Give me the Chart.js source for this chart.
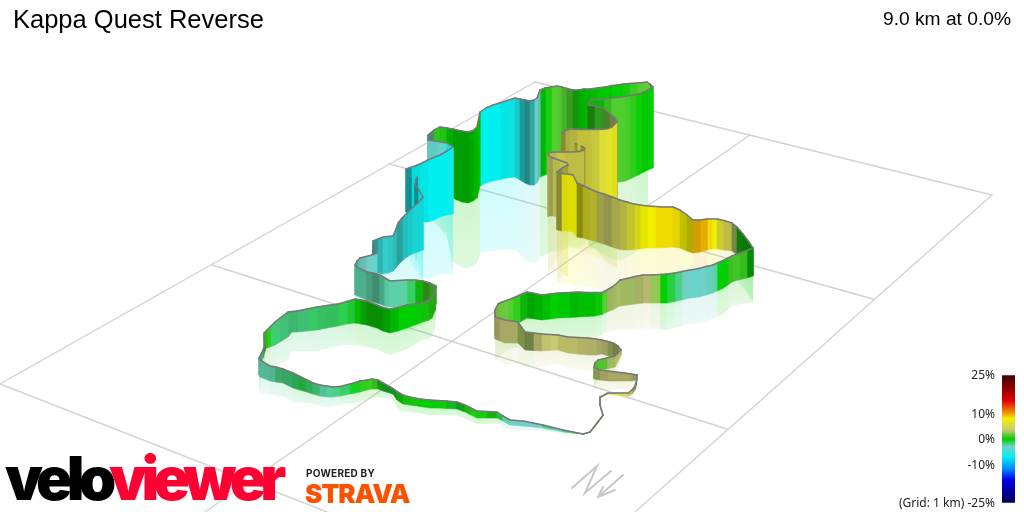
<!DOCTYPE html>
<html lang="en">
<head>
  <meta charset="UTF-8">
  <title>Kappa Quest Reverse</title>
  <script src="https://cdn.jsdelivr.net/npm/chart.js"></script>
  <style>
    html, body { margin: 0; padding: 0; background: #fff; overflow: hidden; }
    #wrap { position: relative; width: 1024px; height: 512px; }
    canvas { display: block; }
    .txt { position: absolute; white-space: nowrap; color: #000; }
    #title { left: 13px; top: 5px; font: 25.5px "Liberation Sans", sans-serif; }
    #dist { right: 13px; top: 8px; font: 19.2px "Liberation Sans", sans-serif; }
    .tick { right: 29px; font: 12px "Noto Sans", sans-serif; line-height: 14px; color: #222; }
    #velo { left: 5px; top: 440px; font: 900 60px/76px Inter, sans-serif; letter-spacing: -5.8px; }
    #velo .a { color: #000; }
    #velo .b { color: #ff0033; }
    #powered { left: 306px; top: 467px; font: 700 10px/13px Inter, sans-serif; letter-spacing: .25px; color: #222; }
    #strava { left: 305px; top: 479px; font: 900 26px/29px Inter, sans-serif; letter-spacing: -0.9px; color: #fc5200; }
  </style>
</head>
<body>
<div id="wrap">
  <canvas id="myChart" width="1024" height="512"></canvas>
  <div class="txt" id="title">Kappa Quest Reverse</div>
  <div class="txt" id="dist">9.0 km at 0.0%</div>
  <div id="ticks"></div>
  <div class="txt" id="velo"><span class="a">velo</span><span class="b">viewer</span></div>
  <div class="txt" id="powered">POWERED BY</div>
  <div class="txt" id="strava">STRAVA</div>
</div>

<script>
  // Route, one row per stretch. top = wall top, base = ground
  const routeX = [
    583,573,563,553,543,533,523,510,503,497,487,477,471,465,457,447,437,430,420,410,403,397,393,383,378,372,367,360,350,340,333,327,320,313,307,300,293,283,276,270,260,
    259,263,265,264,267,270,275,280,288,292,297,307,317,327,338,347,355,361,367,377,383,390,398,407,415,423,428,432,435,436,
    430,423,415,407,398,390,385,380,373,367,360,355,
    357,360,366,372,377,375,373,373,378,383,388,393,396,398,402,407,412,418,423,
    419,415,416,417,410,407,406,
    412,420,428,434,440,447,453,
    447,438,428,428,
    434,440,447,453,457,462,468,473,477,
    480,486,493,500,507,515,520,525,530,534,537,
    540,545,551,557,562,567,573,578,584,590,597,605,612,618,623,630,637,643,647,650,653,
    648,642,636,630,625,620,612,605,597,590,588,595,603,610,615,617,
    612,607,600,592,585,578,570,566,562,564,567,575,581,585,
    584,579,573,565,556,550,548,549,553,560,567,568,562,557,
    562,567,573,577,583,590,597,604,612,620,627,634,640,647,655,665,673,680,687,693,700,707,712,717,724,732,737,743,749,753,
    747,740,732,728,722,717,713,706,699,690,682,675,667,660,651,643,635,627,620,616,612,607,602,595,587,578,570,558,550,542,535,527,520,513,508,502,498,495,495,
    500,505,512,518,525,534,542,550,558,568,578,588,596,602,608,613,618,621,
    615,607,598,595,594,600,608,616,625,631,637,636.5,635,632,628,618,608,600,600,603,597,590
  ];
  const routeTop = [
    434,432,430,427.5,425,423,421,420,416,412,411.5,411,408,405,402,401,400.5,400,399,397,395,391.5,388.5,383,380,379,380,381,384,386.5,387,386,385,383,380,376.5,373,369,367,366,360,
    358,350,345,333,330,327,322,318,312,311.5,311,309,307,305.5,304,301.5,299,300,301,305,307.5,309,307.5,305,304,303,300.5,298,292,286,
    283,281,280,280,280.5,281,278,275,273,272,269,265,
    261,258,256.5,255,253,249,245,241,239,237,236.5,236,229,223,218,213,208,203,197,
    190,185,180,177,176,172,169,
    167,164,160,157.5,155,151,147,
    143,141.5,140,135,
    130,127,128,129,130,131,132,130.5,127,
    112,108,105,103,100.5,98,99,100,101,100,98,
    90,88,87,86,87,88.5,90,90,89,89,88,87,85.5,85,84,83.5,83,82.5,82,84,87,
    90,93,94.5,95.5,96.5,97,98,99,99.5,100,105,106,108,114,118,122,
    127,129,129.5,129.5,129.5,129.5,129,130.5,133,137,140,143.5,146,148,
    150,151.5,152,152,152,152.5,154,156,158,160.5,163,165,168,172,
    173.5,174,175,183,185.5,189,192,194,197,200,202,204,205,206,206.5,207,207,210,215,220,220,219,219,219,220.5,223,227,234,242,248,
    250.5,253,256,258,261,263,265,266.5,268.5,270,271.5,273,274,274.5,275,275,276.5,278.5,280,284,287,290,292.5,292.5,292.5,292,292.5,293,294,295,293.5,292,295,298,300,302,304,310,317,
    318.5,320,321,322,332,333,334,334.5,335,337,337.5,338,339,340,341.5,343,346,350,
    356,358,360,363,367,370,371,372,373,374,375,381,386,390,393,393,393,397,405,415,423,432
  ];
  const routeBase = [
    434,433,432,430,428,427,426,425,421,418,418,418,415,412,409,408.5,408,408,406.5,405,404,400,394,391,389,389,390,392,394,396,397,397,396,394,392,390,388,383,382,381,377,
    375,358,351,349,348,347,345,342,337,332,332,331,330,328,326,324,323,324,325,328,331,333,331,328,325,322,320.5,318,311,304,
    300,303,305,307,307.5,307,306,304,302,300,297,295,
    291,284,280,279,277,275,273,272,273,274,273,271,268,265,261,257,254,252,250,
    228,224,222,220,214,212,212,
    218,222,222,220,217,215,214,
    190,185,180,178,
    178,180,185,198,200,202,203,201,198,
    186,183,181,179.5,178,177,180,183,185,185,183,
    177,175,173,172,172,172,172,172,170,165,162,160,160,160,160,160,160,160,160,162,168,
    170,173,176,179,181,182,182,180,178,177,178,180,186,192,196,198,
    199,199,197,195,194,192,190,188,186,186,187,190,192,194,
    195,196,198,202,208,214,217,216,216,218,222,223,224,230,
    231,231,232,237,238,240,242,244,247,249.5,250,249.5,249,248,248,247.5,247,248,251,253,252,250,249,249,250,251,255,262,270,276,
    278,279.5,282,285,289,291,293,295,297,298,300,301.5,303,303,303,303,304,305,306,308,310,312,314.5,316,316.5,317,317.5,318,319,320,319,318,322,324,326,329,332,336,339,
    341,343,343,343,350,350.5,351,350.5,350,353,354,355,355,354,356,358,356,355,
    367,369,370,375,379,380,381,381,381,381,380,385,390,394,396,395,394,398,406,416,424,432.5
  ];
  // gradient in percent for each stretch of wall
  const routeGrade = [
    0,-2,-3,-2,-3,-3,-3,-2.5,-1,.5,.3,.5,.6,-.5,-.5,.2,0,0,.3,.3,.3,-.8,-.8,.3,1,1,.8,-.5,-1.5,-2,-2.2,-2.5,-1.8,-1.5,-1.2,-1.5,-1.8,-2,-2.4,-2.6,-2.6,
    -2.6,1,.6,.8,.7,-1.6,-1.9,-1.9,-1.9,-1.9,-1.9,-1.6,-1.6,-1.5,-1.2,-.8,.2,.2,.2,.2,.1,0,0,0,.2,.4,.6,.8,1,1.2,
    1.4,.3,-1.5,-2.5,-2.5,-2.5,-2.5,-2.5,-2.5,-2.5,-2.5,-2.5,
    -3,-3,-3,-3.5,-5,-5,-5,-5,-5,-5,-5,-5,-5,-5,-5.5,-6,-6,-6.5,-7,
    -6,-6,-6,-6,-6,-6,-6,
    -7,-7,-7,-7,-7,-6.5,-6.5,
    -3.5,-3.5,-3,-3,
    .8,.5,0,0,0,0,0,0,0,
    -7,-7,-7,-7,-6.5,-6,-5.5,-5,-4.5,-3.5,-3,
    0,.4,1.5,1.6,1.4,1.3,.5,0,0,0,0,0,0,0,.3,1,1.5,1.7,1.8,.2,0,
    .1,.2,.8,1.2,1.4,1.4,1,.3,.3,.8,.8,1,2,3,3.5,7,
    6.5,6,5.5,5.5,5.5,5,5,5,5,5,5,5.5,5.5,5.5,
    5,5,5,5,4.5,4,4,4,4.5,5,5,5,5,5,
    7.5,8,8,7,6.5,6,4.5,4,4.5,5,6,7,8,8,8.5,8.5,8.5,8,8,9.5,9.5,8.5,8,6,5,3,.5,0,0,0,
    1,1.2,1.2,0,.1,-2.5,-2.8,-3,-3.2,-3,-2,-1,0,2.5,3.5,3.3,3,3,3,3,3.2,1.5,.2,0,0,0,0,0,0,0,0,.2,.8,1.5,1.8,2,2.5,3,3.5,
    3.5,3.5,3.5,3,3,3.5,3.7,3.7,3.7,3.7,3.7,3.5,3.5,3.5,3.2,3.2,3.5,3.5,
    3,1.5,1,1,3,3.5,3.5,3.5,3.5,3.5,3.5,3.5,3.5,4,5.5,5.5,4.5,1,1,0,0,0
  ];
  // how much light each stretch catches
  const routeLight = [
    1,1,1,1,1,1,1,1,.9,.8,1,1,.85,.7,.85,1,1,1,.95,.9,.75,.6,.6,.7,.9,1,1,1,1,1,1,.9,.85,.8,.75,.75,.75,.75,.85,.85,.8,
    .75,.6,.8,.9,1,1,.95,.9,.85,.85,.9,.95,.9,.9,1,.95,.85,.7,.6,.6,.7,.85,1,1,.95,.9,.8,.75,.7,.7,
    .55,.85,1,1,1,.95,.75,.6,.7,.8,.8,.75,
    .85,.9,1,1,.6,.5,.5,.6,.75,.9,.85,.8,.65,.65,.8,.85,.9,.9,.9,
    .5,.5,.45,.5,.55,.5,.55,
    .9,.95,1,1,1,1,.95,
    1,.95,.7,.55,
    .95,.95,.8,.7,.7,.7,.75,.85,.9,
    1,1,1,.95,.95,.85,.6,.5,.7,1,.9,
    .85,1,1,.95,.85,.7,.65,.8,.85,.9,.95,.95,1,1,1,1,1,1,1,1,1,
    .95,1,1,1,1,1,.9,.85,.85,.7,.5,.7,.55,.55,.6,.95,
    1,1,.9,.85,.85,.8,.75,.55,.5,.5,.55,.6,.6,.6,
    .85,.85,.85,.9,.85,.8,.75,.7,.85,.9,.85,.7,.6,.55,
    .9,.9,.9,.5,.7,.75,.7,.65,.75,.8,.85,.9,.95,1,1,1,.95,.75,.65,.85,.95,1,1,.9,.85,.6,.5,.5,.45,.6,
    .9,.95,.9,1,1,1,1,1,1,1,1,1,1,1,.9,.85,.9,.9,.95,.9,.85,1,.95,.9,.9,.85,.95,1,.9,.8,.75,.85,1,1,1,.95,.85,.65,.7,
    .8,.8,.8,.65,.55,.8,.95,1,.9,.9,.85,.85,.8,.75,.65,.55,.75,.9,
    .9,.95,1,.8,.7,.75,.8,.8,.8,.7,.55,.55,.7,.9,1,1,.9,.6,.6,.6,.7,.7
  ];

  // Ground grid and north mark, each entry is one line
  const gridX = [[535,0],[535,992],[390,873],[212,727],[0,327],[750,205],[992,635]];
  const gridY = [[82,384],[82,195],[164,299],[265,429],[384,512],[135,512],[195,512]];
  const northX = [[572,597,585,611],[598,623],[598,615],[598,603]];
  const northY = [[488,466,493,471],[497,475],[497,490],[497,487]];

  // Colour key
  const keyGrades = [-25,-16,-12,-7,-3,0,3.5,8,10,15,20,25];
  const keyColours = ['#000050','#0000e8','#0080ff','#00f0f0','#70d0c8','#00d000','#c8c878','#f0f000','#f0a000','#e00000','#900000','#400000'];
  const keyTicks = ['25%','10%','0%','-10%','(Grid: 1 km) -25%'];
  const keyTickGrades = [25,10,0,-10,-25];
  const keyBarX = [1002,1015];
  const keyZeroY = 439, keyPxPerGrade = 2.55;

  function hexToRgb(hex) {
    return [1,3,5].map(i => parseInt(hex.substr(i,2),16));
  }

  function colourForGrade(g) {
    for (let i = 1; i < keyGrades.length; i++) {
      if (g <= keyGrades[i]) {
        const t = (g - keyGrades[i-1]) / (keyGrades[i] - keyGrades[i-1]);
        const a = hexToRgb(keyColours[i-1]), b = hexToRgb(keyColours[i]);
        return a.map((v,k) => v + (b[k]-v)*t);
      }
    }
    return hexToRgb(keyColours[keyColours.length-1]);
  }

  // keep the dark stretches from going too heavy
  function css(rgb, light) {
    const soft = 0.2 + 0.8*light;
    return 'rgb(' + rgb.map(v => Math.round(v*soft)).join(',') + ')';
  }

  // scales have no pixels yet the first time options get resolved
  function verticalGradient(chart, y0, y1) {
    const yScale = chart.scales.y;
    const p0 = yScale ? yScale.getPixelForValue(y0) : NaN;
    const p1 = yScale ? yScale.getPixelForValue(y1) : NaN;
    if (!isFinite(p0) || !isFinite(p1)) return null;
    return chart.ctx.createLinearGradient(0, p0, 0, p1);
  }

  // pale mirror under the wall, fading out towards the bottom
  function fadeFill(rgb, y0, y1) {
    return function(context) {
      const g = verticalGradient(context.chart, y0, y1);
      if (!g) return 'transparent';
      const c = rgb.map(Math.round).join(',');
      g.addColorStop(0, 'rgba(' + c + ',0.19)');
      g.addColorStop(1, 'rgba(' + c + ',0.13)');
      return g;
    };
  }

  function keyFill(context) {
    const g = verticalGradient(context.chart, keyZeroY - 25*keyPxPerGrade, keyZeroY + 25*keyPxPerGrade);
    if (!g) return 'transparent';
    keyGrades.forEach((v,i) => g.addColorStop((25 - v)/50, keyColours[i]));
    return g;
  }

  const datasets = [];
  const addLine = (xs, ys, colour, width) => {
    datasets.push({
      data: xs.map((x,i) => ({x: x, y: ys[i]})),
      showLine: true, fill: false, pointRadius: 0, borderColor: colour, borderWidth: width, borderCapStyle: 'round'
    });
  };

  // grid first so everything else sits over it
  gridX.forEach((xs,i) => addLine(xs, gridY[i], '#d2d2d2', 1.4));
  northX.forEach((xs,i) => addLine(xs, northY[i], '#c8c8c8', 2));

  // split the route into quads and paint them back to front
  const n = routeX.length;
  const quads = [];
  for (let i = 0; i < n; i++) quads.push({i: i, j: (i+1)%n, depth: (routeBase[i] + routeBase[(i+1)%n])/2});
  quads.sort((a,b) => a.depth - b.depth);

  quads.forEach(q => {
    const {i, j} = q;
    // far wall behind the return leg: its mirror doesn't show, only the front one does
    if (routeX[i] >= 590 && routeTop[i] < 90) return;
    const rgb = colourForGrade(routeGrade[i]);
    const h0 = (routeBase[i]-routeTop[i])*0.92, h1 = (routeBase[j]-routeTop[j])*0.92;
    datasets.push({
      data: [{x:routeX[i],y:routeBase[i]},{x:routeX[j],y:routeBase[j]},{x:routeX[j],y:routeBase[j]+h1},{x:routeX[i],y:routeBase[i]+h0}],
      showLine: true, fill: 'shape', pointRadius: 0, borderWidth: 0,
      backgroundColor: fadeFill(rgb, Math.min(routeBase[i],routeBase[j]), Math.max(routeBase[i]+h0, routeBase[j]+h1) + 0.5)
    });
  });
  quads.forEach(q => {
    const {i, j} = q;
    const colour = css(colourForGrade(routeGrade[i]), routeLight[i]);
    datasets.push({
      data: [{x:routeX[i],y:routeTop[i]},{x:routeX[j],y:routeTop[j]},{x:routeX[j],y:routeBase[j]},{x:routeX[i],y:routeBase[i]},{x:routeX[i],y:routeTop[i]}],
      showLine: true, fill: 'shape', pointRadius: 0, borderWidth: 0.6, borderColor: colour, backgroundColor: colour
    });
    addLine([routeX[i],routeX[j]], [routeTop[i],routeTop[j]], '#777777', 1.5);
  });

  // colour key bar
  const keyTop = keyZeroY - 25*keyPxPerGrade, keyBottom = keyZeroY + 25*keyPxPerGrade;
  datasets.push({
    data: [{x:keyBarX[0],y:keyTop},{x:keyBarX[1],y:keyTop},{x:keyBarX[1],y:keyBottom},{x:keyBarX[0],y:keyBottom}],
    showLine: true, fill: 'shape', pointRadius: 0, borderWidth: 0, backgroundColor: keyFill
  });

  // later datasets have to paint on top
  datasets.forEach((d,i) => { d.order = datasets.length - i; });

  const ctx = document.getElementById('myChart').getContext('2d');
  const myChart = new Chart(ctx, {
    type: 'scatter',
    data: { datasets: datasets },
    options: {
      responsive: false,
      animation: false,
      events: [],
      layout: { padding: 0 },
      plugins: { legend: { display: false }, tooltip: { enabled: false } },
      scales: {
        x: { type: 'linear', min: 0, max: 1024, display: false },
        y: { type: 'linear', min: 0, max: 512, reverse: true, display: false }
      }
    }
  });

  // tick labels next to the bar
  const tickBox = document.getElementById('ticks');
  keyTicks.forEach((t,i) => {
    const el = document.createElement('div');
    el.className = 'txt tick';
    el.textContent = t;
    el.style.top = (keyZeroY - keyTickGrades[i]*keyPxPerGrade - 7) + 'px';
    tickBox.appendChild(el);
  });
</script>
</body>
</html>
